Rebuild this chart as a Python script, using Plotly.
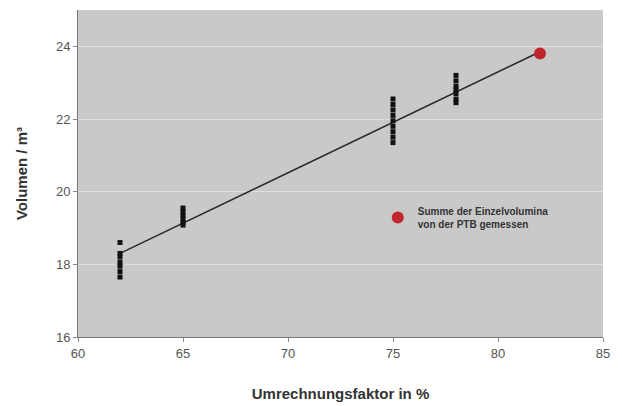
import plotly.graph_objects as go

# Measured volumes per conversion factor
x_62 = [62] * 7
y_62 = [18.6, 18.3, 18.2, 18.05, 17.95, 17.8, 17.65]
x_65 = [65] * 6
y_65 = [19.55, 19.45, 19.35, 19.25, 19.15, 19.08]
x_75 = [75] * 9
y_75 = [22.55, 22.4, 22.25, 22.1, 21.95, 21.8, 21.65, 21.5, 21.35]
x_78 = [78] * 7
y_78 = [23.2, 23.05, 22.9, 22.8, 22.7, 22.55, 22.45]

# Fit line
fit_x = [62, 82]
fit_y = [18.3, 23.85]

# PTB sum of single volumes
ptb_x = [82]
ptb_y = [23.8]
ptb_label = "Summe der Einzelvolumina<br>von der PTB gemessen"

x_ticks = [60, 65, 70, 75, 80, 85]
y_ticks = [16, 18, 20, 22, 24]

font_family = "Liberation Sans, Arial, sans-serif"

fig = go.Figure()
fig.add_trace(go.Scatter(x=fit_x, y=fit_y, mode="lines",
                         line=dict(color="#2a2a2a", width=1.5), showlegend=False))
for xs, ys in [(x_62, y_62), (x_65, y_65), (x_75, y_75), (x_78, y_78)]:
    fig.add_trace(go.Scatter(x=xs, y=ys, mode="markers",
                             marker=dict(symbol="square", size=5, color="#111111"),
                             showlegend=False))
fig.add_trace(go.Scatter(x=ptb_x, y=ptb_y, mode="markers", name=ptb_label,
                         marker=dict(symbol="circle", size=12, color="#c0272d")))

fig.update_layout(
    width=614, height=398,
    margin=dict(l=70, r=19, t=2, b=69),
    paper_bgcolor="white",
    plot_bgcolor="#c9c9c9",
    font=dict(family=font_family, color="#444444", size=12),
    legend=dict(x=0.571, y=0.425, xanchor="left", yanchor="top",
                bgcolor="rgba(0,0,0,0)",
                font=dict(family=font_family, size=10, color="#333333", weight="bold"),
                itemwidth=30),
    xaxis=dict(range=[60, 85], tickvals=x_ticks, showgrid=False, zeroline=False,
               automargin=False,
               showline=True, linecolor="#777777", linewidth=1,
               ticks="outside", ticklen=4, tickcolor="#888888",
               tickfont=dict(size=13, color="#555555"),
               title=dict(text="<b>Umrechnungsfaktor in %</b>",
                          font=dict(size=15, color="#333333"), standoff=28)),
    yaxis=dict(range=[16, 25], tickvals=y_ticks, showgrid=True, gridcolor="#dedede",
               gridwidth=1, zeroline=False, automargin=False,
               showline=True, linecolor="#777777", linewidth=1,
               ticks="outside", ticklen=4, tickcolor="#888888",
               tickfont=dict(size=13, color="#555555"),
               title=dict(text="<b>Volumen / m³</b>",
                          font=dict(size=15, color="#333333"), standoff=24)),
)

fig.write_html("out.html")
